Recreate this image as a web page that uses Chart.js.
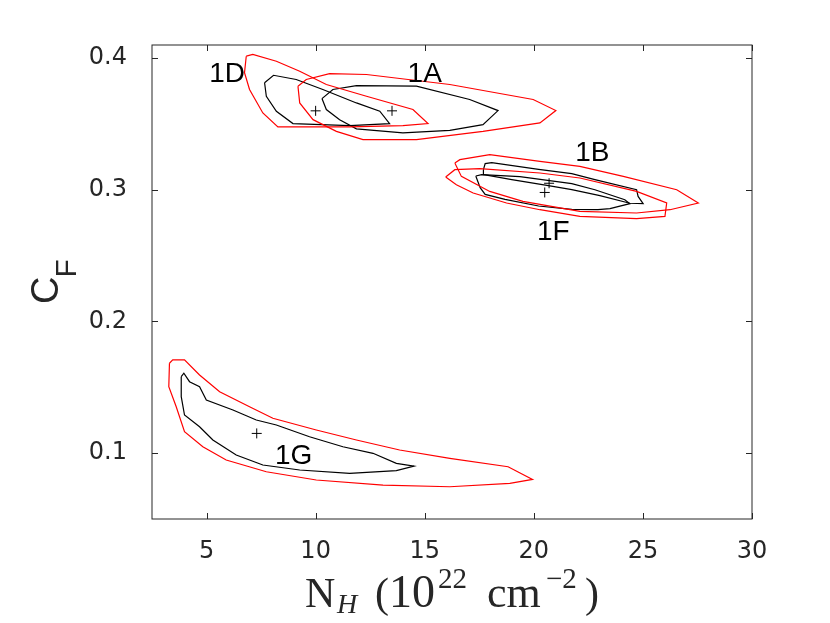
<!DOCTYPE html>
<html>
<head>
<meta charset="utf-8">
<script src="https://cdn.jsdelivr.net/npm/chart.js@4/dist/chart.umd.min.js"></script>
<style>
  html, body { margin: 0; padding: 0; background: #fff; }
  canvas { display: block; }
</style>
</head>
<body>
<canvas id="chart" width="830" height="623"></canvas>
<script>
// axis ranges and tick values
var xTicks = [5, 10, 15, 20, 25, 30];
var yTicks = [0.1, 0.2, 0.3, 0.4];

// contour outlines (N_H, C_F), red = outer level, black = inner level
var c1D_red_x = [6.82, 7.12, 8.20, 9.27, 10.49, 12.33, 14.46, 15.15, 14.0, 11.56, 8.27, 7.58, 6.97, 6.74];
var c1D_red_y = [0.4015, 0.4028, 0.3977, 0.3901, 0.380, 0.3711, 0.361, 0.3503, 0.3488, 0.3478, 0.3478, 0.3584, 0.3762, 0.3889];
var c1D_blk_x = [7.66, 8.07, 9.11, 10.33, 11.87, 12.94, 13.39, 11.56, 8.96, 8.20, 7.74];
var c1D_blk_y = [0.3813, 0.387, 0.3838, 0.3762, 0.366, 0.3597, 0.3503, 0.3488, 0.3503, 0.3597, 0.3711];

var c1A_red_x = [9.19, 9.57, 10.64, 12.33, 16.15, 19.97, 21.01, 20.28, 17.67, 14.62, 12.17, 10.95, 9.88, 9.27];
var c1A_red_y = [0.3787, 0.3838, 0.3883, 0.3876, 0.380, 0.3686, 0.3602, 0.3508, 0.3444, 0.3381, 0.3381, 0.3444, 0.3533, 0.366];
var c1A_blk_x = [10.29, 10.79, 11.87, 14.62, 17.06, 18.36, 17.67, 16.15, 14.0, 11.87, 11.10, 10.49];
var c1A_blk_y = [0.3693, 0.3762, 0.3792, 0.3787, 0.3686, 0.3602, 0.3495, 0.3452, 0.3432, 0.3463, 0.3533, 0.361];

var c1B_red_x = [16.38, 16.61, 17.98, 20.28, 22.11, 24.10, 26.55, 27.54, 26.24, 24.71, 22.11, 19.50, 17.98, 16.68];
var c1B_red_y = [0.3204, 0.3229, 0.3267, 0.3216, 0.3178, 0.3102, 0.3001, 0.290, 0.2849, 0.2824, 0.2836, 0.2912, 0.2988, 0.3102];
var c1B_blk_x = [17.69, 17.77, 18.07, 20.22, 21.74, 22.80, 24.71, 24.78, 25.01, 24.40, 23.03, 21.74, 20.67, 18.99, 17.71];
var c1B_blk_y = [0.3153, 0.3199, 0.3206, 0.3156, 0.3123, 0.3077, 0.3001, 0.295, 0.2895, 0.2898, 0.2956, 0.3001, 0.3032, 0.3077, 0.3115];

var c1F_red_x = [15.96, 16.38, 17.52, 20.28, 22.11, 24.71, 26.09, 26.01, 24.71, 22.11, 20.28, 18.75, 17.22, 16.45];
var c1F_red_y = [0.3098, 0.3153, 0.3161, 0.3128, 0.309, 0.2988, 0.290, 0.2798, 0.2781, 0.2798, 0.2849, 0.290, 0.2976, 0.3039];
var c1F_blk_x = [17.34, 17.61, 19.36, 21.74, 22.80, 24.17, 24.40, 23.49, 22.94, 21.74, 20.22, 18.68, 17.77, 17.54];
var c1F_blk_y = [0.3105, 0.3115, 0.310, 0.3047, 0.3001, 0.2925, 0.2895, 0.2857, 0.2849, 0.2851, 0.2877, 0.2927, 0.2965, 0.3016];

var c1G_red_x = [3.30, 3.45, 3.99, 4.68, 5.60, 6.97, 8.04, 10.03, 11.87, 13.85, 16.15, 18.82, 19.94, 18.90, 16.15, 13.09, 10.03, 7.74, 5.90, 4.83, 3.99, 3.61, 3.27];
var c1G_red_y = [0.1683, 0.1708, 0.1708, 0.1594, 0.1467, 0.1353, 0.1265, 0.1176, 0.110, 0.1024, 0.0961, 0.0897, 0.0801, 0.0771, 0.0745, 0.0758, 0.0796, 0.0859, 0.0948, 0.1049, 0.1163, 0.1353, 0.1505];
var c1G_blk_x = [3.84, 3.96, 4.22, 4.68, 4.99, 6.21, 7.28, 8.20, 9.72, 11.25, 12.63, 13.70, 14.51, 13.70, 11.56, 9.27, 7.58, 6.36, 5.29, 4.68, 3.99, 3.84];
var c1G_blk_y = [0.1581, 0.1607, 0.1543, 0.1505, 0.1404, 0.1328, 0.1252, 0.1214, 0.1125, 0.1049, 0.0999, 0.0923, 0.0902, 0.0867, 0.0847, 0.0872, 0.091, 0.0986, 0.110, 0.1201, 0.129, 0.1429];

// best-fit positions (+ markers)
var bestX = [10.0, 13.5, 20.7, 20.5, 7.3];
var bestY = [0.36, 0.36, 0.305, 0.298, 0.115];

// source labels and where they sit (baseline, centred)
var labelText = ['1D', '1A', '1B', '1F', '1G'];
var labelX = [5.94, 15.0, 22.68, 20.89, 8.99];
var labelY = [0.3817, 0.3817, 0.3216, 0.2621, 0.0917];

var AXIS_COLOR = '#262626';

/** turns two coordinate arrays into a closed polyline */
function closed(xs, ys) {
	var pts = [];
	for (var i = 0; i < xs.length; i++) pts.push({ x: xs[i], y: ys[i] });
	pts.push({ x: xs[0], y: ys[0] });
	return pts;
}

function contour(xs, ys, color) {
	return {
		data: closed(xs, ys),
		showLine: true,
		borderColor: color,
		borderWidth: 1.2,
		pointRadius: 0,
		fill: false,
		tension: 0
	};
}

var datasets = [
	contour(c1D_red_x, c1D_red_y, '#ff0000'),
	contour(c1A_red_x, c1A_red_y, '#ff0000'),
	contour(c1B_red_x, c1B_red_y, '#ff0000'),
	contour(c1F_red_x, c1F_red_y, '#ff0000'),
	contour(c1G_red_x, c1G_red_y, '#ff0000'),
	contour(c1D_blk_x, c1D_blk_y, '#000000'),
	contour(c1A_blk_x, c1A_blk_y, '#000000'),
	contour(c1B_blk_x, c1B_blk_y, '#000000'),
	contour(c1F_blk_x, c1F_blk_y, '#000000'),
	contour(c1G_blk_x, c1G_blk_y, '#000000')
];

var best = [];
for (var i = 0; i < bestX.length; i++) best.push({ x: bestX[i], y: bestY[i] });
datasets.push({
	data: best,
	showLine: false,
	pointStyle: 'cross',
	pointRadius: 5,
	borderColor: '#000000',
	borderWidth: 1,
	backgroundColor: '#000000'
});

//box, inward ticks on all four sides, source labels and axis titles
var framePlugin = {
	id: 'frame',
	afterDraw: function(chart) {
		var ctx = chart.ctx;
		var a = chart.chartArea;
		var xs = chart.scales.x, ys = chart.scales.y;
		var tl = 6;
		ctx.save();

		// source labels
		ctx.fillStyle = '#000';
		ctx.font = '28px "Liberation Sans", Arial, sans-serif';
		ctx.textAlign = 'center';
		ctx.textBaseline = 'alphabetic';
		for (var i = 0; i < labelText.length; i++) {
			ctx.fillText(labelText[i], xs.getPixelForValue(labelX[i]), ys.getPixelForValue(labelY[i]));
		}

		ctx.strokeStyle = AXIS_COLOR;
		ctx.lineWidth = 1;
		ctx.strokeRect(a.left, a.top, a.right - a.left, a.bottom - a.top);
		ctx.beginPath();
		xTicks.forEach(function(v) {
			var p = Math.round(xs.getPixelForValue(v)) + 0.5;
			ctx.moveTo(p, a.bottom); ctx.lineTo(p, a.bottom - tl);
			ctx.moveTo(p, a.top); ctx.lineTo(p, a.top + tl);
		});
		yTicks.forEach(function(v) {
			var p = Math.round(ys.getPixelForValue(v)) + 0.5;
			ctx.moveTo(a.left, p); ctx.lineTo(a.left + tl, p);
			ctx.moveTo(a.right, p); ctx.lineTo(a.right - tl, p);
		});
		ctx.stroke();

		// y title: C_F, rotated
		ctx.fillStyle = AXIS_COLOR;
		ctx.textAlign = 'left';
		ctx.translate(58, 304);
		ctx.rotate(-Math.PI / 2);
		ctx.font = '38px "Liberation Sans", Arial, sans-serif';
		ctx.fillText('C', 0, 0);
		var cw = ctx.measureText('C').width;
		ctx.font = '30px "Liberation Sans", Arial, sans-serif';
		ctx.fillText('F', cw - 1, 18);
		ctx.setTransform(1, 0, 0, 1, 0, 0);

		// x title: N_H (10^22 cm^-2), pieces placed from the left end
		var x0 = (a.left + a.right) / 2 - 147;
		var base = 607;
		var serif = '"Liberation Serif", "Times New Roman", serif';
		var pieces = [
			['N', '42px ' + serif, 0, 0],
			['H', 'italic 28px ' + serif, 32, 6],
			['(', '42px ' + serif, 70, 0],
			['10', '46px ' + serif, 84, 0],
			['22', '29px ' + serif, 133, -19],
			['cm', '44px ' + serif, 182, 0],
			['\u22122', '29px ' + serif, 241, -19],
			[')', '42px ' + serif, 280, 0]
		];
		pieces.forEach(function(p) {
			ctx.font = p[1];
			ctx.fillText(p[0], x0 + p[2], base + p[3]);
		});
		ctx.restore();
	}
};

new Chart(document.getElementById('chart').getContext('2d'), {
	type: 'scatter',
	data: { datasets: datasets },
	options: {
		responsive: false,
		animation: false,
		layout: { padding: { left: 0, right: 78, top: 45, bottom: 0 } },
		plugins: {
			legend: { display: false },
			tooltip: { enabled: false }
		},
		scales: {
			x: {
				type: 'linear',
				min: 2.5,
				max: 30,
				grid: { display: false },
				border: { display: false },
				afterBuildTicks: function(scale) {
					scale.ticks = xTicks.map(function(v) { return { value: v }; });
				},
				afterFit: function(scale) { scale.height = 104; },
				ticks: {
					color: AXIS_COLOR,
					padding: 10,
					maxRotation: 0,
					font: { family: '"DejaVu Sans", sans-serif', size: 24 },
					callback: function(v) { return String(v); }
				}
			},
			y: {
				type: 'linear',
				min: 0.05,
				max: 0.41,
				grid: { display: false },
				border: { display: false },
				afterBuildTicks: function(scale) {
					scale.ticks = yTicks.map(function(v) { return { value: v }; });
				},
				afterFit: function(scale) { scale.width = 152; },
				ticks: {
					color: AXIS_COLOR,
					padding: 17,
					font: { family: '"DejaVu Sans", sans-serif', size: 24 },
					callback: function(v) { return String(Math.round(v * 10) / 10); }
				}
			}
		}
	},
	plugins: [framePlugin]
});
</script>
</body>
</html>
